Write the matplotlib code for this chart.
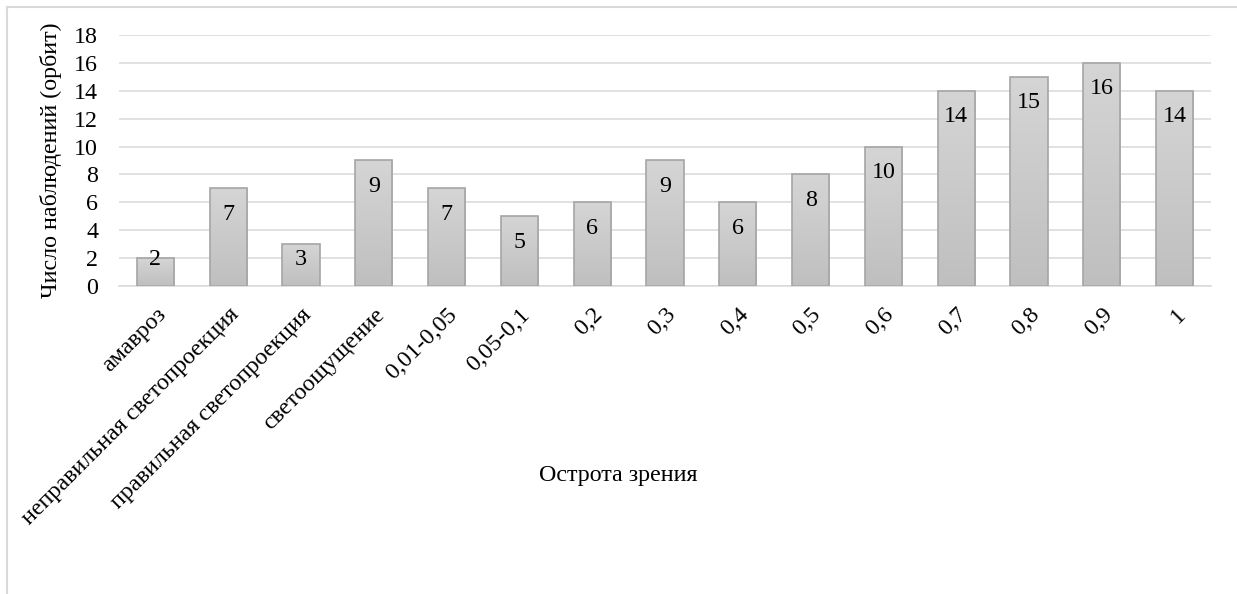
import matplotlib
matplotlib.use('Agg')
import matplotlib.pyplot as plt
from matplotlib.lines import Line2D
import numpy as np

categories = ['амавроз', 'неправильная светопроекция', 'правильная светопроекция',
              'светоощущение', '0,01-0,05', '0,05-0,1', '0,2', '0,3', '0,4', '0,5',
              '0,6', '0,7', '0,8', '0,9', '1']
counts = [2, 7, 3, 9, 7, 5, 6, 9, 6, 8, 10, 14, 15, 16, 14]
yticks = [0, 2, 4, 6, 8, 10, 12, 14, 16, 18]

plt.rcParams['font.family'] = ['Liberation Serif', 'DejaVu Serif']
FS = 17.3

fig = plt.figure(figsize=(12.37, 5.94), dpi=100)
fig.patch.set_facecolor('white')
ax = fig.add_axes([119 / 1237, 1 - 286 / 594, (1211 - 119) / 1237, (286 - 35) / 594])

x = np.arange(len(categories))
bars = ax.bar(x, counts, width=0.51, color='none', edgecolor='#a5a5a5',
              linewidth=1.2, zorder=3)

# vertical gradient inside each bar
grad = np.linspace(0, 1, 256).reshape(-1, 1)
cmap = matplotlib.colors.LinearSegmentedColormap.from_list('g', ['#bfbfbf', '#d5d5d5'])
for b in bars:
    x0, w, h = b.get_x(), b.get_width(), b.get_height()
    im = ax.imshow(grad, extent=[x0, x0 + w, 0, h], origin='lower', aspect='auto',
                   cmap=cmap, zorder=2)
    im.set_clip_path(b)

# value labels just inside the top of each bar
for xi, v in zip(x, counts):
    ax.text(xi, max(v - 1.87, 1.87), str(v), ha='center', va='center',
            fontsize=FS, color='black', zorder=4)

ax.set_xlim(-0.5, len(categories) - 0.5)
ax.set_ylim(0, 18)
ax.set_yticks(yticks)
ax.set_yticklabels([str(t) for t in yticks], fontsize=FS)
ax.set_xticks(x)
ax.set_xticklabels(categories, rotation=45, ha='right', rotation_mode='anchor',
                   fontsize=FS)
ax.tick_params(axis='both', length=0)
ax.tick_params(axis='x', pad=13)
ax.tick_params(axis='y', pad=15)

ax.grid(axis='y', color='#d9d9d9', linewidth=1.1, zorder=0)
ax.set_axisbelow(True)
for s in ['top', 'right', 'left']:
    ax.spines[s].set_visible(False)
ax.spines['bottom'].set_color('#d9d9d9')
ax.spines['bottom'].set_linewidth(1.1)

ax.set_ylabel('Число наблюдений (орбит)', fontsize=FS, labelpad=9)
fig.text(0.5, 1 - 476 / 594, 'Острота зрения', ha='center', va='center', fontsize=FS)

# chart frame, left and top edges
fig.add_artist(Line2D([7 / 1237, 7 / 1237], [0, 1 - 7 / 594], color='#d9d9d9', lw=1.5))
fig.add_artist(Line2D([7 / 1237, 1], [1 - 7 / 594, 1 - 7 / 594], color='#d9d9d9', lw=1.5))

fig.savefig('out.png', dpi=100, facecolor='white')
